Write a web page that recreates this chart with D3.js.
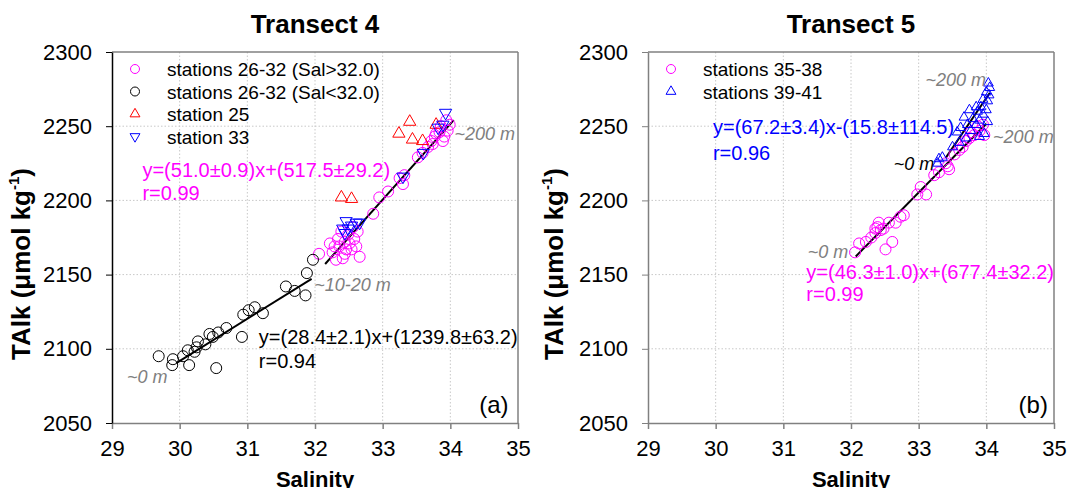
<!DOCTYPE html>
<html>
<head>
<meta charset="utf-8">
<script src="https://cdn.jsdelivr.net/npm/d3@7"></script>
<style>
  body { margin: 0; background: #fff; }
  svg { font-family: "Liberation Sans", Arial, sans-serif; }
</style>
</head>
<body>
<svg id="chart" width="1068" height="488"></svg>
<script>
// axis ticks shared by both panels
const salTicks = [29, 30, 31, 32, 33, 34, 35];
const talkTicks = [2050, 2100, 2150, 2200, 2250, 2300];

// Transect 4 : [salinity, TAlk]
const t4HighSal = [
  [32.06, 2164], [32.31, 2160], [32.26, 2165], [32.36, 2169], [32.44, 2164], [32.44, 2172],
  [32.51, 2171], [32.49, 2177], [32.58, 2174], [32.63, 2179], [32.66, 2162], [32.56, 2182],
  [32.22, 2171], [32.34, 2174], [32.39, 2179], [32.46, 2167], [32.29, 2169], [32.41, 2161],
  [32.54, 2167], [32.61, 2169], [32.86, 2191], [32.95, 2202], [33.08, 2206], [33.25, 2215],
  [33.32, 2217], [33.30, 2211], [33.52, 2229], [33.59, 2232], [33.67, 2236], [33.72, 2240],
  [33.77, 2243], [33.84, 2246], [33.91, 2243], [33.96, 2247], [33.99, 2251], [33.94, 2254],
  [33.86, 2250], [33.79, 2245], [33.89, 2240], [33.74, 2238]
];
const t4LowSal = [
  [29.69, 2095], [29.90, 2093], [29.89, 2089], [30.05, 2095], [30.14, 2089], [30.12, 2099],
  [30.25, 2101], [30.27, 2105], [30.22, 2098], [30.38, 2103], [30.44, 2110], [30.49, 2108],
  [30.57, 2111], [30.69, 2114], [30.54, 2087], [30.92, 2108], [30.94, 2123], [31.02, 2126],
  [31.11, 2128], [31.23, 2124], [31.57, 2142], [31.70, 2139], [31.86, 2136], [31.88, 2151],
  [31.97, 2160]
];
const t4Station25 = [
  [33.40, 2253], [33.24, 2245], [33.44, 2241], [33.59, 2240], [33.79, 2251], [32.39, 2202],
  [32.54, 2201]
];
const t4Station33 = [
  [33.93, 2259], [33.82, 2249], [33.89, 2251], [33.60, 2232], [33.30, 2216], [32.46, 2186],
  [32.41, 2181], [32.61, 2185], [32.49, 2181], [32.54, 2183], [32.44, 2178], [32.66, 2185]
];

// Transect 5 : [salinity, TAlk]
const t5St35to38 = [
  [32.06, 2165], [32.12, 2171], [32.22, 2172], [32.30, 2175], [32.36, 2178], [32.39, 2182],
  [32.41, 2185], [32.44, 2180], [32.36, 2181], [32.48, 2181], [32.51, 2167], [32.61, 2172],
  [32.56, 2185], [32.66, 2185], [32.73, 2189], [32.78, 2190], [32.98, 2204], [33.11, 2204],
  [33.03, 2209], [33.23, 2217], [33.30, 2219], [33.45, 2221], [33.40, 2225], [33.53, 2231],
  [33.65, 2236], [33.75, 2242], [33.82, 2244], [33.90, 2247], [33.97, 2244], [33.95, 2251],
  [33.87, 2250], [33.77, 2246], [33.70, 2240], [33.60, 2234], [33.43, 2223]
];
const t5St39to41 = [
  [33.30, 2228], [33.35, 2229], [33.28, 2225], [33.50, 2236], [33.60, 2239], [33.70, 2242],
  [33.77, 2247], [33.72, 2251], [33.85, 2251], [33.90, 2254], [33.80, 2255], [33.95, 2258],
  [33.87, 2260], [34.00, 2261], [33.92, 2263], [34.02, 2267], [33.95, 2268], [34.04, 2271],
  [34.00, 2273], [34.05, 2276], [34.03, 2279], [33.75, 2261], [33.85, 2263], [33.67, 2256],
  [33.90, 2243], [33.97, 2245], [33.62, 2249], [33.57, 2246], [34.02, 2253]
];

// regression lines: slope, intercept, salinity range
const t4Fits = [
  { slope: 51.0, intercept: 517.5, from: 32.15, to: 34.05 },
  { slope: 28.4, intercept: 1239.8, from: 29.95, to: 31.95 }
];
const t5Fits = [
  { slope: 46.3, intercept: 677.4, from: 32.07, to: 34.0 },
  { slope: 67.2, intercept: -15.8, from: 33.4, to: 34.05 }
];

const MAG = "#ff00ff", BLUE = "#0000ff", RED = "#ff0000", GREY = "#808080";

const svg = d3.select("#chart");

function drawPanel(opt) {
  const x = d3.scaleLinear().domain([29, 35]).range([opt.left, opt.right]);
  const y = d3.scaleLinear().domain([2050, 2300]).range([423, 52]);
  const g = svg.append("g");

  // dotted grid
  g.selectAll(".vg").data(salTicks.slice(1, -1)).join("line")
    .attr("x1", d => x(d)).attr("x2", d => x(d))
    .attr("y1", y(2300)).attr("y2", y(2050))
    .attr("stroke", "#c8c8c8").attr("stroke-dasharray", "1.5,2");
  g.selectAll(".hg").data(talkTicks.slice(1, -1)).join("line")
    .attr("x1", x(29)).attr("x2", x(35))
    .attr("y1", d => y(d)).attr("y2", d => y(d))
    .attr("stroke", "#c8c8c8").attr("stroke-dasharray", "1.5,2");

  // frame top / right
  g.append("line").attr("x1", x(29)).attr("x2", x(35)).attr("y1", y(2300)).attr("y2", y(2300))
    .attr("stroke", GREY).attr("stroke-width", 1.5);
  g.append("line").attr("x1", x(35)).attr("x2", x(35)).attr("y1", y(2300)).attr("y2", y(2050))
    .attr("stroke", GREY).attr("stroke-width", 1.5);

  // axes
  const xAxis = g.append("g").attr("transform", `translate(0,${y(2050)})`)
    .call(d3.axisBottom(x).tickValues(salTicks).tickFormat(d3.format("d"))
      .tickSize(6).tickSizeOuter(0).tickPadding(8));
  const yAxis = g.append("g").attr("transform", `translate(${x(29)},0)`)
    .call(d3.axisLeft(y).tickValues(talkTicks).tickFormat(d3.format("d"))
      .tickSize(6).tickSizeOuter(0).tickPadding(14));
  xAxis.select(".domain").attr("stroke", GREY).attr("stroke-width", 1.5);
  xAxis.selectAll(".tick line").attr("stroke", GREY).attr("stroke-width", 1.5);
  yAxis.select(".domain").attr("stroke", opt.leftAxisColor).attr("stroke-width", 1.5);
  yAxis.selectAll(".tick line").attr("stroke", opt.leftAxisColor);
  g.selectAll(".tick text").attr("font-size", 22).attr("fill", "#000")
    .attr("font-family", "Liberation Sans, Arial, sans-serif");
  xAxis.selectAll(".tick text").attr("dy", "0.85em");

  // titles
  g.append("text").attr("x", (opt.left + opt.right) / 2).attr("y", 33)
    .attr("text-anchor", "middle").attr("font-size", 26).attr("font-weight", "bold")
    .text(opt.title);
  g.append("text").attr("x", (opt.left + opt.right) / 2).attr("y", 487)
    .attr("text-anchor", "middle").attr("font-size", 22).attr("font-weight", "bold")
    .text("Salinity");
  const yl = g.append("text")
    .attr("transform", `translate(${opt.yLabelX},264) rotate(-90)`)
    .attr("text-anchor", "middle").attr("font-size", 26).attr("font-weight", "bold");
  yl.append("tspan").text("TAlk (\u03bcmol kg");
  yl.append("tspan").attr("font-size", 15).attr("dy", -11).text("-1");
  yl.append("tspan").attr("dy", 11).text(")");

  // fit lines
  const line = d3.line().x(d => x(d[0])).y(d => y(d[1]));
  g.selectAll(".fit").data(opt.fits).join("path")
    .attr("d", f => line([[f.from, f.slope * f.from + f.intercept], [f.to, f.slope * f.to + f.intercept]]))
    .attr("stroke", "#000").attr("stroke-width", 2).attr("fill", "none");

  // markers
  opt.series.forEach(s => {
    if (s.shape === "circle") {
      g.append("g").selectAll("circle").data(s.data).join("circle")
        .attr("cx", d => x(d[0])).attr("cy", d => y(d[1])).attr("r", s.r)
        .attr("fill", "none").attr("stroke", s.color).attr("stroke-width", 1);
    } else {
      const sym = d3.symbol().type(d3.symbolTriangle).size(s.size);
      g.append("g").selectAll("path").data(s.data).join("path")
        .attr("d", sym)
        .attr("transform", d => `translate(${x(d[0])},${y(d[1])})` + (s.shape === "down" ? " rotate(180)" : ""))
        .attr("fill", "none").attr("stroke", s.color).attr("stroke-width", 1);
    }
  });

  // legend
  opt.series.forEach((s, i) => {
    const ly = 69 + i * 22.5;
    const lx = opt.left + 23;
    if (s.shape === "circle") {
      g.append("circle").attr("cx", lx).attr("cy", ly).attr("r", 4.5)
        .attr("fill", "none").attr("stroke", s.color);
    } else {
      g.append("path").attr("d", d3.symbol().type(d3.symbolTriangle).size(42))
        .attr("transform", `translate(${lx},${ly})` + (s.shape === "down" ? " rotate(180)" : ""))
        .attr("fill", "none").attr("stroke", s.color);
    }
    g.append("text").attr("x", lx + 32).attr("y", ly + 7).attr("font-size", 19).text(s.label);
  });

  // annotations placed in data units
  opt.notes.forEach(n => {
    g.append("text").attr("x", x(n.at[0])).attr("y", y(n.at[1]))
      .attr("text-anchor", n.anchor || "start")
      .attr("font-size", n.size || 20)
      .attr("font-style", n.italic ? "italic" : "normal")
      .attr("fill", n.color || "#000")
      .text(n.text);
  });
}

drawPanel({
  left: 112, right: 518, yLabelX: 30, leftAxisColor: "#000", title: "Transect 4",
  fits: t4Fits,
  series: [
    { label: "stations 26-32 (Sal>32.0)", data: t4HighSal, color: MAG, shape: "circle", r: 5.5 },
    { label: "stations 26-32 (Sal<32.0)", data: t4LowSal, color: "#000", shape: "circle", r: 5.5 },
    { label: "station 25", data: t4Station25, color: RED, shape: "up", size: 65 },
    { label: "station 33", data: t4Station33, color: BLUE, shape: "down", size: 65 }
  ],
  notes: [
    { text: "y=(51.0\u00b10.9)x+(517.5\u00b129.2)", at: [29.45, 2215.5], color: MAG },
    { text: "r=0.99", at: [29.45, 2200], color: MAG },
    { text: "y=(28.4\u00b12.1)x+(1239.8\u00b163.2)", at: [31.17, 2103], color: "#000" },
    { text: "r=0.94", at: [31.17, 2087], color: "#000" },
    { text: "~200 m", at: [34.06, 2241], color: GREY, italic: true, size: 18 },
    { text: "~10-20 m", at: [31.99, 2139], color: GREY, italic: true, size: 18 },
    { text: "~0 m", at: [29.22, 2077], color: GREY, italic: true, size: 18 },
    { text: "(a)", at: [34.86, 2057], anchor: "end", size: 24 }
  ]
});

drawPanel({
  left: 648, right: 1054, yLabelX: 563, leftAxisColor: GREY, title: "Transect 5",
  fits: t5Fits,
  series: [
    { label: "stations 35-38", data: t5St35to38, color: MAG, shape: "circle", r: 5.5 },
    { label: "stations 39-41", data: t5St39to41, color: BLUE, shape: "up", size: 42 }
  ],
  notes: [
    { text: "y=(67.2\u00b13.4)x-(15.8\u00b1114.5)", at: [29.96, 2244.5], color: BLUE },
    { text: "r=0.96", at: [29.96, 2227.5], color: BLUE },
    { text: "~200 m", at: [33.1, 2277], color: GREY, italic: true, size: 18 },
    { text: "~200 m", at: [34.1, 2238.5], color: GREY, italic: true, size: 18 },
    { text: "~0 m", at: [32.63, 2220.5], color: "#000", italic: true, size: 18 },
    { text: "~0 m", at: [31.36, 2161.5], color: GREY, italic: true, size: 18 },
    { text: "y=(46.3\u00b11.0)x+(677.4\u00b132.2)", at: [31.34, 2147], color: MAG },
    { text: "r=0.99", at: [31.34, 2132], color: MAG },
    { text: "(b)", at: [34.91, 2057], anchor: "end", size: 24 }
  ]
});
</script>
</body>
</html>
